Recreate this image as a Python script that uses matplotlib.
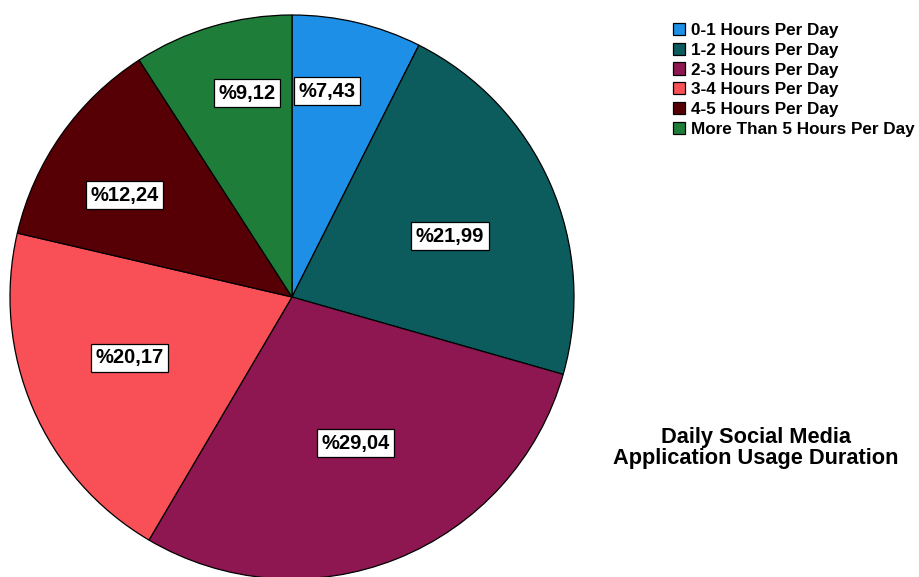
import matplotlib
matplotlib.use("Agg")
import matplotlib.pyplot as plt
import numpy as np

plt.rcParams['font.family'] = ['Liberation Sans', 'DejaVu Sans']

categories = ["0-1 Hours Per Day", "1-2 Hours Per Day", "2-3 Hours Per Day",
              "3-4 Hours Per Day", "4-5 Hours Per Day", "More Than 5 Hours Per Day"]
percentages = [7.43, 21.99, 29.04, 20.17, 12.24, 9.12]
label_texts = ["%7,43", "%21,99", "%29,04", "%20,17", "%12,24", "%9,12"]
colors = ["#1E8FE6", "#0C5C5E", "#8E1651", "#F94F57", "#560006", "#1F7D3A"]
title = "Daily Social Media\nApplication Usage Duration"

# placement of each value box: fraction of the radius and angular shift (deg)
label_radius = [0.74, 0.60, 0.565, 0.615, 0.695, 0.74]
label_shift = [3.8, -2.6, 1.7, -2.7, 3.8, -4.1]

W, H = 919, 577
fig = plt.figure(figsize=(W / 100, H / 100), dpi=100)
cx, cy, R = 292, 297, 282
ax = fig.add_axes([(cx - R) / W, (H - cy - R) / H, 2 * R / W, 2 * R / H])

wedges, _ = ax.pie(percentages, colors=colors, startangle=90, counterclock=False,
                   radius=1.0, wedgeprops=dict(edgecolor='black', linewidth=0.9))
ax.set_xlim(-1, 1)
ax.set_ylim(-1, 1)
ax.set_aspect('equal')
ax.axis('off')

for w, txt, r, s in zip(wedges, label_texts, label_radius, label_shift):
    mid = np.deg2rad((w.theta1 + w.theta2) / 2 + s)
    ax.text(r * np.cos(mid), r * np.sin(mid), txt, ha='center', va='center',
            fontsize=14.5, fontweight='bold', color='black',
            bbox=dict(boxstyle='square,pad=0.22', facecolor='white',
                      edgecolor='black', linewidth=0.9))

fig.legend(wedges, categories, loc='upper left', bbox_to_anchor=(673 / W, 1 - 23 / H),
           frameon=False, prop=dict(weight='bold', size=12.3),
           handlelength=0.73, handleheight=0.73, handletextpad=0.35,
           labelspacing=0.27, borderaxespad=0, borderpad=0)

fig.text(756 / W, 1 - 448 / H, title, ha='center', va='center',
         fontsize=15.7, fontweight='bold', linespacing=0.95)

fig.savefig("out.png", dpi=100, facecolor='white')
